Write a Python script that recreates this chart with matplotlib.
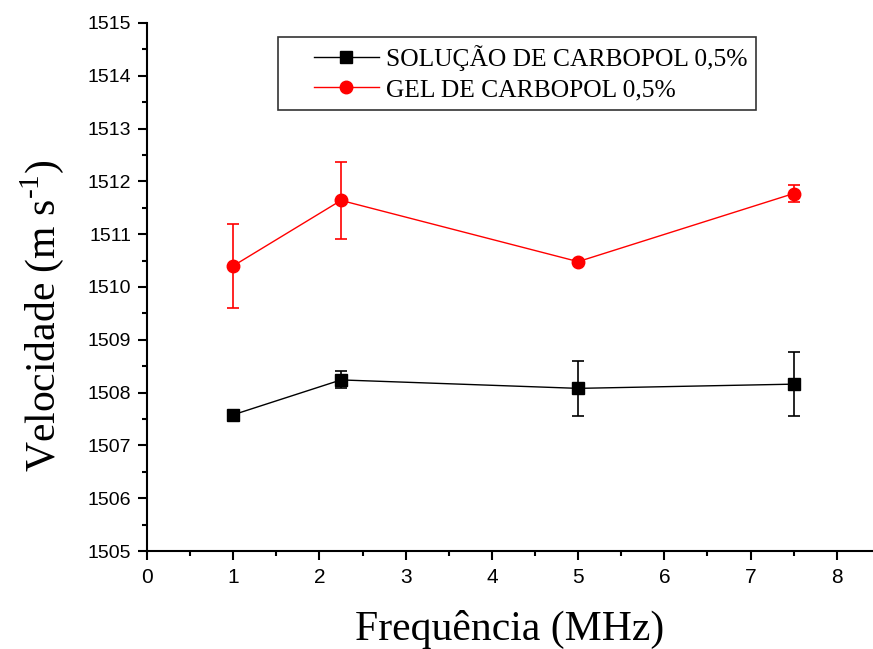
import matplotlib.pyplot as plt
from matplotlib.legend_handler import HandlerLine2D
from matplotlib.ticker import MultipleLocator

plt.rcParams["mathtext.fontset"] = "custom"
plt.rcParams["mathtext.rm"] = "Liberation Serif"

freq = [1.0, 2.25, 5.0, 7.5]

sol_vel = [1507.58, 1508.24, 1508.08, 1508.16]
sol_err = [0.02, 0.16, 0.52, 0.61]

gel_vel = [1510.40, 1511.64, 1510.48, 1511.77]
gel_err = [0.80, 0.73, 0.03, 0.16]

labels = ["SOLUÇÃO DE CARBOPOL 0,5%", "GEL DE CARBOPOL 0,5%"]

fig = plt.figure(figsize=(8.73, 6.49), dpi=100)
ax = fig.add_axes([0.1684, 0.151, 0.8316, 0.8136])

eb1 = ax.errorbar(freq, sol_vel, yerr=sol_err, color="black", marker="s", markersize=8,
                  linewidth=1, elinewidth=1.2, capsize=4, capthick=1.2)
eb2 = ax.errorbar(freq, gel_vel, yerr=gel_err, color="red", marker="o", markersize=9,
                  linewidth=1, elinewidth=1.2, capsize=4, capthick=1.2)

ax.set_xlim(0, 8.42)
ax.set_ylim(1505, 1515)
ax.xaxis.set_major_locator(MultipleLocator(1))
ax.xaxis.set_minor_locator(MultipleLocator(0.5))
ax.yaxis.set_major_locator(MultipleLocator(1))
ax.yaxis.set_minor_locator(MultipleLocator(0.5))

for side in ("top", "right"):
    ax.spines[side].set_visible(False)
for side in ("left", "bottom"):
    ax.spines[side].set_linewidth(1.5)

ax.tick_params(which="major", direction="out", length=6.5, width=1.5)
ax.tick_params(which="minor", direction="out", length=3.5, width=1.5)
ax.tick_params(axis="y", labelsize=14, pad=5)
ax.tick_params(axis="x", labelsize=15, pad=6)
for lab in ax.get_xticklabels() + ax.get_yticklabels():
    lab.set_fontfamily("Liberation Sans")

ax.set_xlabel("Frequência (MHz)", fontfamily="Liberation Serif", fontsize=30, labelpad=16)
ax.set_ylabel("Velocidade (m s$^{\\text{-1}}$)", fontfamily="Liberation Serif",
              fontsize=30)
ax.yaxis.set_label_coords(-0.112, 0.445)

leg = ax.legend([eb1[0], eb2[0]], labels, loc="upper left", bbox_to_anchor=(0.180, 0.974),
                prop={"family": "Liberation Serif", "size": 18.4},
                frameon=True, fancybox=False, edgecolor="black",
                handlelength=3.63, borderpad=0.32, labelspacing=0.3,
                handletextpad=0.3, borderaxespad=0,
                handler_map={eb1[0]: HandlerLine2D(xpad=1.09),
                             eb2[0]: HandlerLine2D(xpad=1.09)})
leg.get_frame().set_linewidth(1.2)

fig.savefig("out.png", dpi=100)
